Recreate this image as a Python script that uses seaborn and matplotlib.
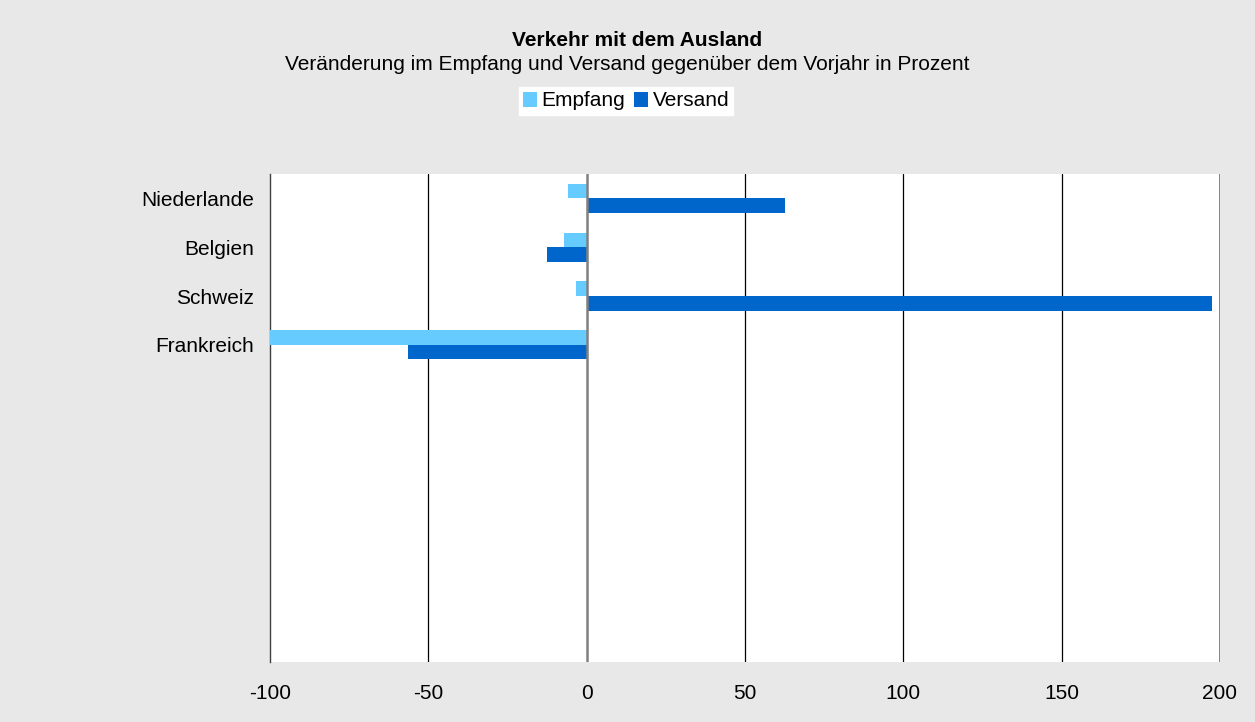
import seaborn as sns
import matplotlib.pyplot as plt
import pandas as pd

# --------------------
# Data (Veränderung gegenüber Vorjahr in %)
# --------------------
laender = ["Niederlande", "Belgien", "Schweiz", "Frankreich"]
empfang = [-6.0, -7.3, -3.2, -100.0]
versand = [62.6, -12.6, 197.5, -56.5]
x_ticks = [-100, -50, 0, 50, 100, 150, 200]

df = pd.DataFrame({
    "Land": laender * 2,
    "Wert": empfang + versand,
    "Richtung": ["Empfang"] * len(laender) + ["Versand"] * len(laender),
})

bg = "#e8e8e8"
sns.set_theme(style="white")
plt.rcParams["font.family"] = ["Liberation Sans", "DejaVu Sans"]
plt.rcParams["text.color"] = "black"
plt.rcParams["xtick.color"] = "black"
plt.rcParams["ytick.color"] = "black"

fs = 15

fig = plt.figure(figsize=(12.55, 7.22), dpi=100, facecolor=bg)
ax = fig.add_axes([0.2151, 0.0831, 0.9721 - 0.2151, 0.759 - 0.0831])
ax.set_facecolor("white")

sns.barplot(data=df, y="Land", x="Wert", hue="Richtung", order=laender,
            palette={"Empfang": "#66ccff", "Versand": "#0066cc"},
            width=0.6, orient="h", ax=ax, zorder=3, saturation=1, linewidth=0)

# --------------------
# Axes styling
# --------------------
ax.set_xlim(-100, 200)
ax.set_ylim(9.5, -0.5)
ax.set_xticks(x_ticks)
ax.set_xticklabels([str(t) for t in x_ticks], fontsize=fs)
ax.tick_params(axis="x", length=0, pad=16, colors="black")
ax.tick_params(axis="y", length=0, pad=11.5, labelsize=fs, colors="black")
ax.set_xlabel("")
ax.set_ylabel("")
for t in x_ticks[1:-1]:
    if t == 0:
        continue
    ax.axvline(t, color="black", lw=0.9, zorder=1)
ax.axvline(0, color="#808080", lw=1.8, zorder=4)
ax.axvline(200, color="#707070", lw=1.2, zorder=1)
for s in ["top", "right", "bottom"]:
    ax.spines[s].set_visible(False)
ax.spines["left"].set_color("#404040")
ax.spines["left"].set_linewidth(1.0)

# --------------------
# Title + Legend
# --------------------
fig.text(637 / 1255, 1 - 40 / 722, "Verkehr mit dem Ausland", ha="center", va="center",
         fontsize=fs, fontweight="bold", color="black")
fig.text(0.5, 1 - 65 / 722, "Veränderung im Empfang und Versand gegenüber dem Vorjahr in Prozent",
         ha="center", va="center", fontsize=fs, color="black")

handles, labels = ax.get_legend_handles_labels()
ax.legend_.remove()
leg = fig.legend(handles, labels, loc="center", bbox_to_anchor=(626 / 1255, 1 - 101 / 722),
                 ncol=2, frameon=True, fancybox=False, facecolor="white", edgecolor="white",
                 handlelength=0.7, handleheight=0.7, handletextpad=0.2, columnspacing=0.4,
                 borderpad=0.2, fontsize=fs, framealpha=1)
for txt in leg.get_texts():
    txt.set_color("black")

fig.savefig("out.png", dpi=100, facecolor=bg)
